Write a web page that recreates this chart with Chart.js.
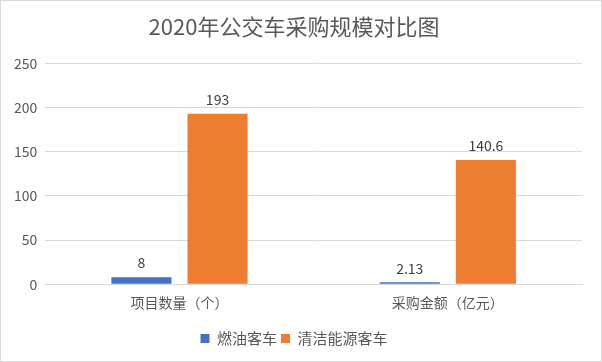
<!DOCTYPE html>
<html>
<head>
<meta charset="utf-8">
<script src="https://cdn.jsdelivr.net/npm/chart.js@4/dist/chart.umd.min.js"></script>
<style>
    html, body { margin: 0; padding: 0; background: #fff; }
    #wrap { width: 602px; height: 362px; box-sizing: border-box; border: 1px solid #d9d9d9; }
</style>
</head>
<body>
<div id="wrap"><canvas id="c" width="600" height="360"></canvas></div>
<script>
    const categories = ['项目数量（个）', '采购金额（亿元）'];
    const fuelBus = [8, 2.13];
    const cleanBus = [193, 140.6];
    const yTicks = [0, 50, 100, 150, 200, 250];

    const fontFamily = '"Noto Sans CJK SC", "Noto Sans", sans-serif';
    const grey = '#595959';

    // draw values above each bar
    const valueLabels = {
        id: 'valueLabels',
        afterDatasetsDraw(chart) {
            const ctx = chart.ctx;
            ctx.save();
            ctx.font = '14px ' + fontFamily;
            ctx.fillStyle = '#404040';
            ctx.textAlign = 'center';
            ctx.textBaseline = 'bottom';
            chart.data.datasets.forEach((ds, i) => {
                chart.getDatasetMeta(i).data.forEach((bar, j) => {
                    ctx.fillText(String(ds.data[j]), bar.x, bar.y - 7);
                });
            });
            ctx.restore();
        }
    };

    new Chart(document.getElementById('c'), {
        type: 'bar',
        data: {
            labels: categories,
            datasets: [{
                label: '燃油客车',
                data: fuelBus,
                backgroundColor: '#4472c4',
                categoryPercentage: 0.567,
                barPercentage: 0.79
            }, {
                label: '清洁能源客车',
                data: cleanBus,
                backgroundColor: '#ed7d31',
                categoryPercentage: 0.567,
                barPercentage: 0.79
            }]
        },
        options: {
            responsive: false,
            animation: false,
            layout: { padding: { left: 5, right: 19, top: 8, bottom: 5 } },
            scales: {
                x: {
                    grid: { display: false },
                    border: { color: '#d9d9d9' },
                    ticks: { color: grey, font: { family: fontFamily, size: 14 }, padding: 2 },
                    afterFit: axis => { axis.height += 14; }
                },
                y: {
                    min: 0,
                    max: 250,
                    afterBuildTicks: axis => { axis.ticks = yTicks.map(v => ({ value: v })); },
                    grid: { color: '#d9d9d9', drawTicks: false },
                    border: { display: false },
                    ticks: { color: grey, font: { family: fontFamily, size: 14 }, padding: 8 }
                }
            },
            plugins: {
                title: {
                    display: true,
                    text: '2020年公交车采购规模对比图',
                    color: grey,
                    font: { family: fontFamily, size: 22, weight: 'normal' },
                    padding: { top: 4, bottom: 24 }
                },
                legend: {
                    position: 'bottom',
                    labels: {
                        color: grey,
                        font: { family: fontFamily, size: 15 },
                        boxWidth: 9,
                        boxHeight: 9,
                        padding: 4
                    }
                },
                tooltip: { enabled: false }
            }
        },
        plugins: [valueLabels]
    });
</script>
</body>
</html>
